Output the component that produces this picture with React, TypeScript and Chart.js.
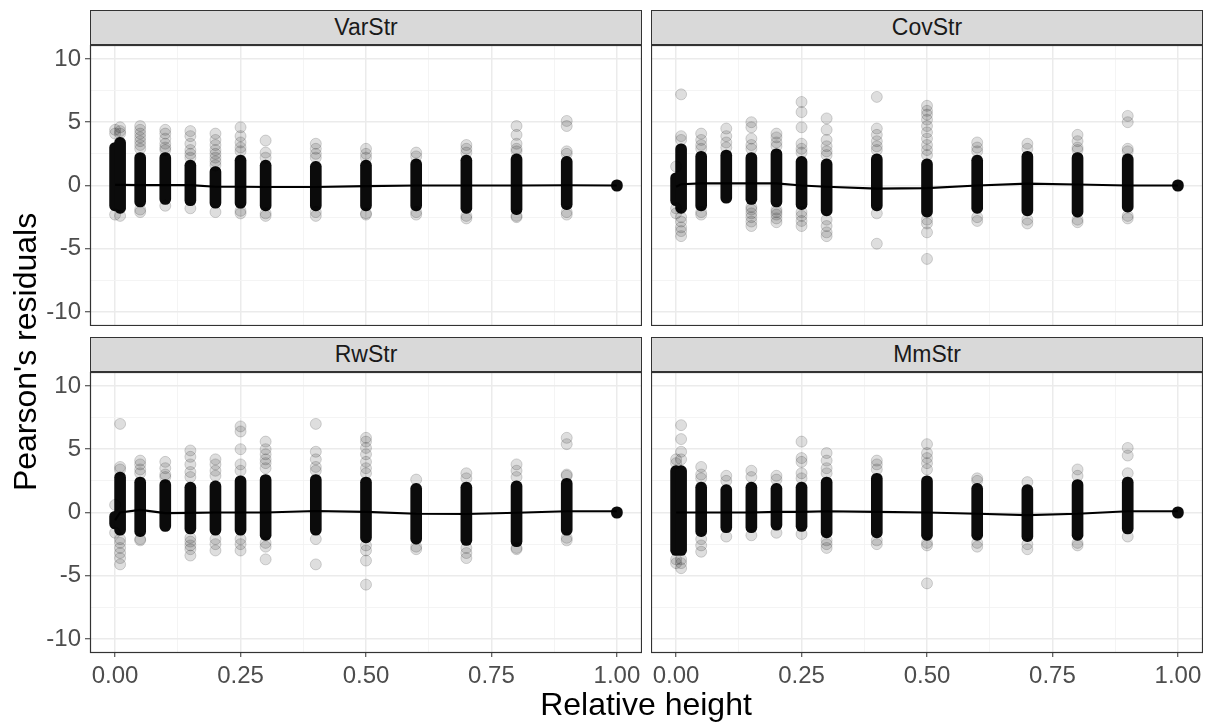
import React, { useEffect, useRef } from 'react';
import { Chart, registerables } from 'chart.js';

Chart.register(...registerables);

// ---------------- data ----------------
const HEIGHTS = [0, 0.01, 0.05, 0.1, 0.15, 0.2, 0.25, 0.3, 0.4, 0.5, 0.6, 0.7, 0.8, 0.9, 1.0];

const X_TICKS = [0, 0.125, 0.25, 0.375, 0.5, 0.625, 0.75, 0.875, 1];
const X_MAJOR = [0, 0.25, 0.5, 0.75, 1];
const Y_TICKS = [-10, -7.5, -5, -2.5, 0, 2.5, 5, 7.5, 10];
const Y_MAJOR = [-10, -5, 0, 5, 10];

const PANEL_TITLES = ['VarStr', 'CovStr', 'RwStr', 'MmStr'];

// VarStr
const VAR_CORE_LO = [-2.0, -2.2, -1.7, -1.5, -1.6, -1.8, -1.8, -2.0, -2.0, -2.0, -2.0, -2.2, -2.3, -1.9, -0.45];
const VAR_CORE_HI = [3.4, 3.8, 2.6, 2.6, 2.0, 1.5, 2.4, 2.0, 1.9, 2.0, 2.1, 2.4, 2.5, 2.3, 0.45];
const VAR_TAILS = [
  [4.4, 4.1, -2.3],
  [4.6, 4.3, 4.1, -2.4],
  [4.7, 4.4, 4.1, 3.8, 3.5, 3.2, 2.9, -1.9, -2.1],
  [4.4, 4.1, 3.7, 3.3, 3.0, 2.8, -1.6],
  [4.3, 3.9, 3.3, 2.8, 2.5, 2.2, -1.8],
  [4.1, 3.6, 3.2, 2.8, 2.5, 2.2, 1.9, 1.6, -2.1],
  [4.6, 3.9, 3.4, 3.0, 2.7, -2.0, -2.2],
  [3.55, 2.6, 2.2, -2.2, -2.4],
  [3.3, 2.9, 2.5, 2.2, -2.1, -2.4],
  [2.9, 2.5, 2.2, -2.2, -2.3],
  [2.6, 2.3, -2.1, -2.3],
  [3.2, 2.9, 2.6, -2.4, -2.6],
  [4.7, 4.0, 3.3, 2.9, 2.7, -2.4, -2.5],
  [5.1, 4.7, 2.7, 2.5, -2.1, -2.3],
  [],
];
const VAR_LINE = [0.05, 0.05, 0.03, 0.03, 0.03, -0.1, -0.1, -0.12, -0.12, -0.05, 0.0, 0.0, 0.0, 0.02, 0.0];

// CovStr
const COV_CORE_LO = [-1.6, -2.2, -2.0, -1.4, -1.5, -1.7, -1.9, -2.4, -2.0, -2.5, -2.2, -2.4, -2.5, -2.1, -0.45];
const COV_CORE_HI = [1.0, 3.3, 2.7, 2.8, 2.6, 2.9, 2.3, 2.1, 2.5, 2.1, 2.4, 2.7, 2.6, 2.5, 0.45];
const COV_TAILS = [
  [1.5, -1.8, -2.2],
  [7.2, 3.9, 3.6, -2.5, -2.85, -3.3, -3.6, -4.0],
  [4.1, 3.6, 3.2, 2.9, -2.1, -2.3],
  [4.5, 3.9, 3.4, 3.0],
  [5.0, 4.6, 3.7, 3.2, 2.9, -1.7, -1.9, -2.2, -2.5, -2.85, -3.2],
  [4.1, 3.8, 3.4, 3.1, -1.9, -2.1, -2.3, -2.6, -2.9],
  [6.6, 5.8, 4.6, 3.3, 2.9, 2.6, -2.1, -2.4, -2.8, -3.2],
  [5.3, 4.4, 3.6, 3.1, 2.7, 2.4, -2.7, -3.2, -3.7, -4.0],
  [7.0, 4.5, 4.0, 3.5, 3.1, 2.8, -2.2, -4.6],
  [6.3, 5.9, 5.6, 5.2, 4.7, 4.2, 3.7, 3.2, 2.8, 2.4, -2.7, -3.0, -3.7, -5.8],
  [3.4, 3.0, 2.7, -2.5, -2.8],
  [3.3, 2.9, -2.7, -3.0],
  [4.0, 3.5, 3.0, 2.8, -2.7, -2.9],
  [5.5, 5.0, 2.9, 2.7, -2.4, -2.6],
  [],
];
const COV_LINE = [-0.1, 0.1, 0.17, 0.17, 0.17, 0.17, 0.0, -0.1, -0.25, -0.2, 0.0, 0.15, 0.08, 0.0, 0.0];

// RwStr
const RW_CORE_LO = [-1.3, -1.8, -1.9, -1.5, -1.7, -1.8, -1.8, -2.2, -1.8, -2.4, -2.5, -2.6, -2.7, -1.8, -0.45];
const RW_CORE_HI = [0.1, 3.2, 2.8, 2.6, 2.4, 2.5, 2.9, 3.0, 3.0, 2.8, 2.3, 2.4, 2.5, 2.7, 0.45];
const RW_TAILS = [
  [-1.6, 0.6],
  [7.0, 3.6, 3.4, -2.1, -2.4, -2.8, -3.2, -3.6, -4.1],
  [4.1, 3.8, 3.4, 3.1, -2.1, -2.2],
  [4.0, 3.5, 3.0, 2.8],
  [4.9, 4.4, 3.8, 3.2, 2.8, -2.0, -2.3, -2.6, -2.9, -3.4],
  [4.2, 3.8, 3.3, 2.9, -2.1, -2.5, -3.0],
  [6.8, 6.4, 5.0, 3.8, 3.3, -2.1, -2.5, -3.0],
  [5.6, 5.0, 4.6, 4.2, 3.9, 3.5, -2.4, -2.7, -3.7],
  [7.0, 4.8, 4.2, 3.6, 3.3, -2.1, -4.1],
  [5.9, 5.6, 5.1, 4.6, 4.0, 3.5, 3.1, -2.6, -3.0, -3.8, -5.7],
  [2.6, -2.7, -2.9],
  [3.1, 2.7, -2.8, -3.2, -3.6],
  [3.8, 3.3, 2.8, -2.8, -2.9],
  [5.9, 5.4, 3.0, 2.9, -2.0, -2.2],
  [],
];
const RW_LINE = [-0.6, 0.0, 0.2, -0.05, -0.03, 0.0, 0.0, 0.0, 0.12, 0.05, -0.1, -0.12, -0.02, 0.1, 0.1];

// MmStr
const MM_CORE_LO = [-3.4, -3.4, -1.9, -1.6, -1.6, -1.4, -1.5, -2.0, -2.0, -2.2, -2.2, -2.3, -2.2, -1.7, -0.45];
const MM_CORE_HI = [3.7, 3.7, 2.4, 2.2, 2.4, 2.3, 2.4, 2.8, 3.1, 2.9, 2.3, 2.2, 2.6, 2.8, 0.45];
const MM_TAILS = [
  [4.2, 3.9, -3.7, -4.0],
  [6.9, 5.8, 4.8, 4.2, -3.7, -4.0, -4.4],
  [3.6, 3.0, 2.7, -2.1, -2.6, -3.1],
  [2.9, 2.5, -1.9],
  [3.3, 2.8, -1.8],
  [2.9, 2.6, -1.6],
  [5.6, 4.3, 4.0, 3.1, 2.7, -1.7],
  [4.7, 4.1, 3.5, 3.1, -2.2, -2.5, -2.8],
  [4.1, 3.8, 3.4, -2.2, -2.5],
  [5.4, 4.7, 4.3, 3.9, 3.4, -2.4, -2.6, -5.6],
  [2.7, 2.5, -2.4, -2.7],
  [2.4, -2.5, -2.9],
  [3.4, 2.9, -2.4, -2.6],
  [5.1, 4.5, 3.1, -1.9],
  [],
];
const MM_LINE = [0.0, 0.0, 0.0, 0.0, 0.0, 0.05, 0.05, 0.1, 0.05, 0.0, -0.1, -0.2, -0.1, 0.1, 0.1];

// ---------------- layout ----------------
const FONT = '"Liberation Sans", Arial, Helvetica, sans-serif';
const PLOT_W = 552;
const PLOT_H = 281;
const COL_LEFT = [90, 651];
const ROW_TOP = [45, 372];
const STRIP_H = 35;
const Y_AXIS_W = 50;
const X_AXIS_H = 40;

const isMajor = (v: number, list: number[]) => list.some((m) => Math.abs(m - v) < 1e-9);

const borderPlugin = {
  id: 'panelBorder',
  afterDraw(chart: any) {
    const { left, top, right, bottom } = chart.chartArea;
    const ctx = chart.ctx;
    ctx.save();
    ctx.strokeStyle = '#333333';
    ctx.lineWidth = 1.2;
    ctx.strokeRect(left + 0.5, top + 0.5, right - left - 1, bottom - top - 1);
    ctx.restore();
  },
};

const zeroPad = (s: any) => {
  s.paddingTop = 0;
  s.paddingBottom = 0;
  s.paddingLeft = 0;
  s.paddingRight = 0;
};

type PanelProps = {
  lo: number[];
  hi: number[];
  tails: number[][];
  line: number[];
  showX: boolean;
  showY: boolean;
};

function PanelChart({ lo, hi, tails, line, showX, showY }: PanelProps) {
  const ref = useRef<HTMLCanvasElement | null>(null);
  const w = PLOT_W + (showY ? Y_AXIS_W : 0);
  const h = PLOT_H + (showX ? X_AXIS_H : 0);

  useEffect(() => {
    if (!ref.current) return;
    const corePts = HEIGHTS.map((x, i) => ({ x, y: [lo[i], hi[i]] }));
    const tailPts: { x: number; y: number }[] = [];
    HEIGHTS.forEach((x, i) => tails[i].forEach((y) => tailPts.push({ x, y })));
    const linePts = HEIGHTS.map((x, i) => ({ x, y: line[i] }));

    const chart = new Chart(ref.current, {
      type: 'scatter',
      data: {
        datasets: [
          {
            type: 'line',
            data: linePts,
            borderColor: '#000000',
            borderWidth: 2.2,
            pointRadius: 0,
            fill: false,
            tension: 0,
            order: 0,
          } as any,
          {
            type: 'scatter',
            data: tailPts,
            backgroundColor: 'rgba(0,0,0,0.13)',
            borderColor: 'rgba(0,0,0,0.16)',
            borderWidth: 1,
            pointRadius: 5.5,
            order: 1,
          } as any,
          {
            type: 'bar',
            data: corePts,
            backgroundColor: '#0b0b0b',
            borderWidth: 0,
            barThickness: 11,
            borderRadius: 5.5,
            borderSkipped: false,
            order: 2,
          } as any,
        ],
      },
      options: {
        animation: false,
        responsive: false,
        maintainAspectRatio: false,
        layout: { padding: 0, autoPadding: false },
        plugins: { legend: { display: false }, tooltip: { enabled: false } },
        scales: {
          x: {
            type: 'linear',
            min: -0.05,
            max: 1.05,
            offset: false,
            afterBuildTicks: (s: any) => {
              s.ticks = X_TICKS.map((v) => ({ value: v }));
            },
            afterFit: (s: any) => {
              s.height = showX ? X_AXIS_H : 0;
              zeroPad(s);
            },
            border: { display: false },
            grid: {
              offset: false,
              drawTicks: showX,
              tickLength: 4,
              tickWidth: 1,
              tickColor: (c: any) => (isMajor(c.tick.value, X_MAJOR) ? '#333333' : 'rgba(0,0,0,0)'),
              color: (c: any) => (isMajor(c.tick.value, X_MAJOR) ? '#EBEBEB' : '#F3F3F3'),
              lineWidth: (c: any) => (isMajor(c.tick.value, X_MAJOR) ? 1.5 : 0.9),
            },
            ticks: {
              display: showX,
              autoSkip: false,
              maxRotation: 0,
              minRotation: 0,
              padding: 5,
              color: '#4D4D4D',
              font: { family: FONT, size: 24 },
              callback: (v: any) => (isMajor(Number(v), X_MAJOR) ? Number(v).toFixed(2) : ''),
            },
          },
          y: {
            type: 'linear',
            position: 'left',
            min: -11.1,
            max: 11.1,
            afterBuildTicks: (s: any) => {
              s.ticks = Y_TICKS.map((v) => ({ value: v }));
            },
            afterFit: (s: any) => {
              s.width = showY ? Y_AXIS_W : 0;
              zeroPad(s);
            },
            border: { display: false },
            grid: {
              drawTicks: showY,
              tickLength: 5,
              tickWidth: 1,
              tickColor: (c: any) => (isMajor(c.tick.value, Y_MAJOR) ? '#333333' : 'rgba(0,0,0,0)'),
              color: (c: any) => (isMajor(c.tick.value, Y_MAJOR) ? '#EBEBEB' : '#F3F3F3'),
              lineWidth: (c: any) => (isMajor(c.tick.value, Y_MAJOR) ? 1.5 : 0.9),
            },
            ticks: {
              display: showY,
              autoSkip: false,
              padding: 4,
              color: '#4D4D4D',
              font: { family: FONT, size: 24 },
              callback: (v: any) => (isMajor(Number(v), Y_MAJOR) ? String(v) : ''),
            },
          },
        },
      } as any,
      plugins: [borderPlugin],
    });
    return () => chart.destroy();
  }, [lo, hi, tails, line, showX, showY]);

  return <canvas ref={ref} width={w} height={h} style={{ display: 'block', width: w, height: h }} />;
}

const PANEL_DATA = [
  { lo: VAR_CORE_LO, hi: VAR_CORE_HI, tails: VAR_TAILS, line: VAR_LINE },
  { lo: COV_CORE_LO, hi: COV_CORE_HI, tails: COV_TAILS, line: COV_LINE },
  { lo: RW_CORE_LO, hi: RW_CORE_HI, tails: RW_TAILS, line: RW_LINE },
  { lo: MM_CORE_LO, hi: MM_CORE_HI, tails: MM_TAILS, line: MM_LINE },
];

export default function App() {
  return (
    <div
      style={{
        position: 'absolute',
        left: 0,
        top: 0,
        width: 1214,
        height: 722,
        background: '#ffffff',
        fontFamily: FONT,
        overflow: 'hidden',
      }}
    >
      {PANEL_DATA.map((p, idx) => {
        const col = idx % 2;
        const row = Math.floor(idx / 2);
        const showY = col === 0;
        const showX = row === 1;
        const plotLeft = COL_LEFT[col];
        const plotTop = ROW_TOP[row];
        return (
          <React.Fragment key={idx}>
            <div
              style={{
                position: 'absolute',
                left: plotLeft,
                top: plotTop - STRIP_H,
                width: PLOT_W,
                height: STRIP_H,
                boxSizing: 'border-box',
                border: '1.2px solid #333333',
                background: '#D9D9D9',
                display: 'flex',
                alignItems: 'center',
                justifyContent: 'center',
                fontSize: 23,
                color: '#1A1A1A',
              }}
            >
              {PANEL_TITLES[idx]}
            </div>
            <div
              style={{
                position: 'absolute',
                left: plotLeft - (showY ? Y_AXIS_W : 0),
                top: plotTop,
              }}
            >
              <PanelChart {...p} showX={showX} showY={showY} />
            </div>
          </React.Fragment>
        );
      })}
      <div
        style={{
          position: 'absolute',
          left: 446,
          top: 688,
          width: 400,
          height: 32,
          lineHeight: '32px',
          fontSize: 32,
          textAlign: 'center',
          color: '#000000',
          whiteSpace: 'nowrap',
        }}
      >
        Relative height
      </div>
      <div
        style={{
          position: 'absolute',
          left: 25 - 200,
          top: 352 - 16,
          width: 400,
          height: 32,
          lineHeight: '32px',
          fontSize: 32,
          textAlign: 'center',
          color: '#000000',
          whiteSpace: 'nowrap',
          transform: 'rotate(-90deg)',
          transformOrigin: '50% 50%',
        }}
      >
        Pearson&apos;s residuals
      </div>
    </div>
  );
}
